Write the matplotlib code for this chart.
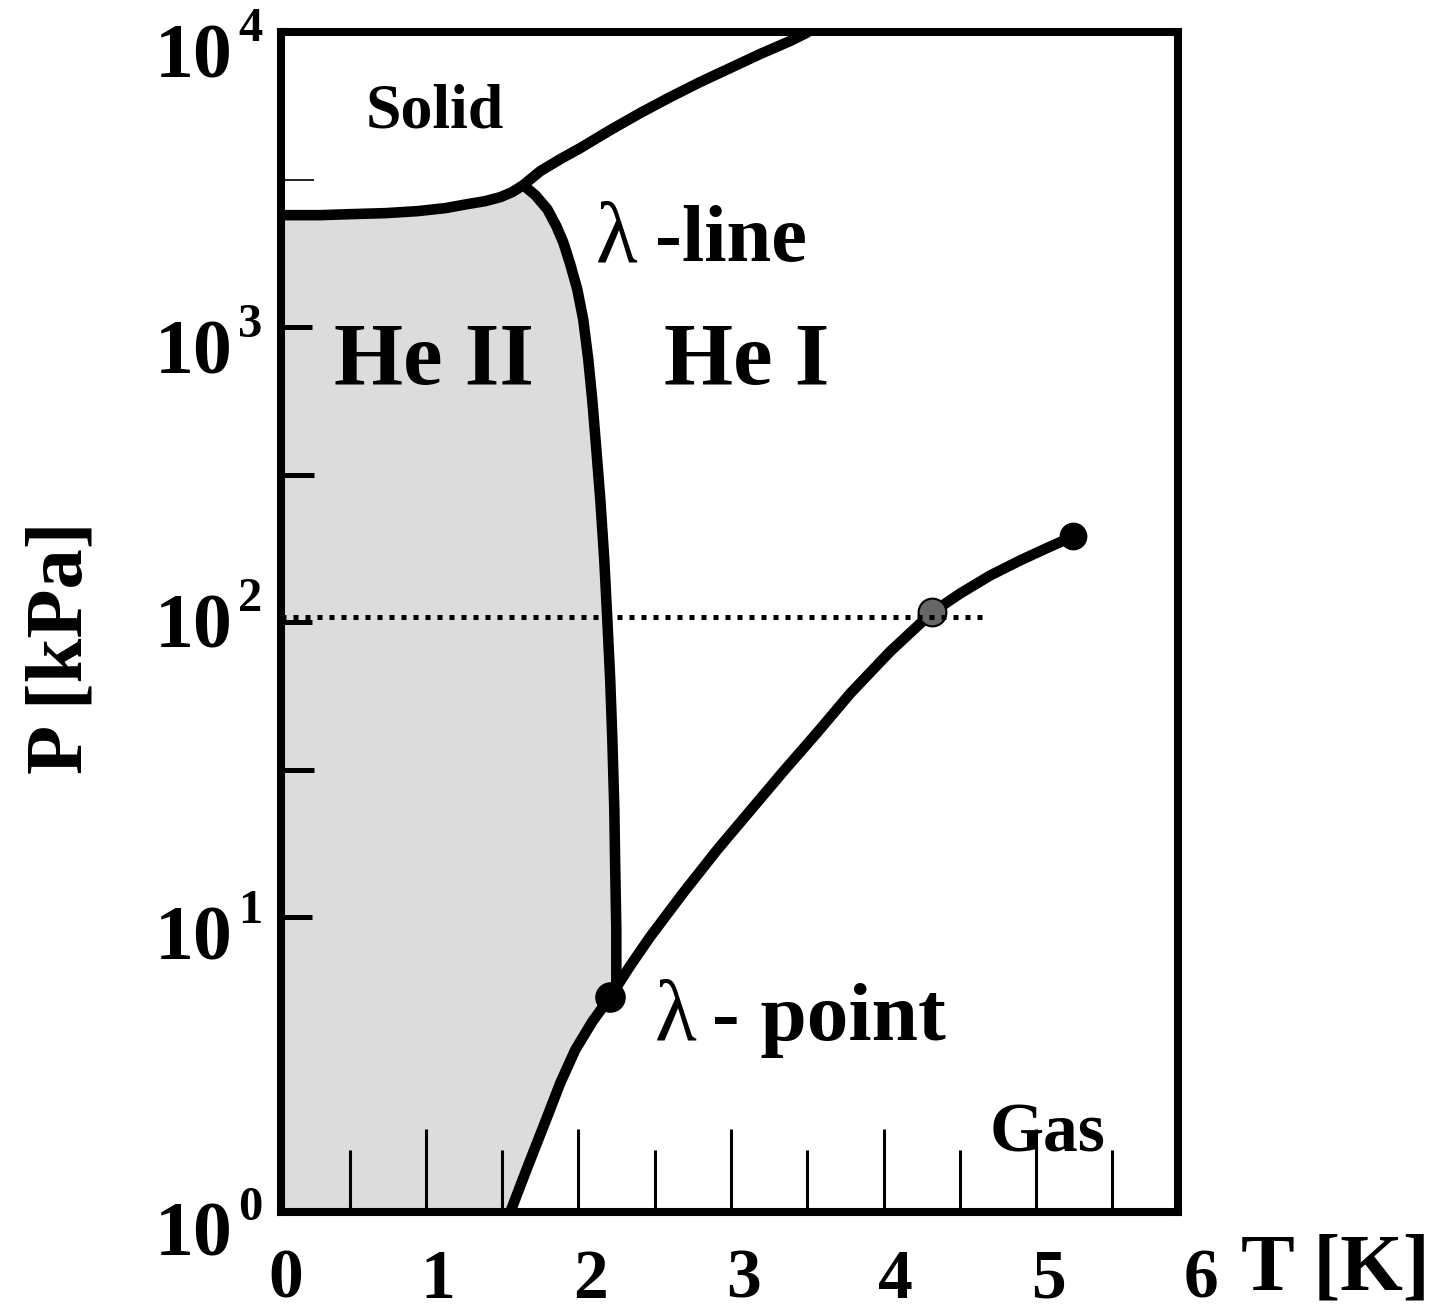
import numpy as np
import matplotlib
matplotlib.use("Agg")
import matplotlib.pyplot as plt
from matplotlib.ticker import FixedLocator, NullFormatter

plt.rcParams['font.family'] = ['Liberation Serif', 'DejaVu Serif']

# ---- phase boundaries of helium-4 (T in K, P in kPa) ----
# melting curve, solid / He II
melt_low_T = [0.05, 0.308, 0.505, 0.734, 0.944, 1.127, 1.271, 1.389,
              1.488, 1.566, 1.638]
melt_low_P = [2394, 2394, 2413, 2432, 2470, 2529, 2609, 2671,
              2756, 2866, 3027]
# melting curve, solid / He I
melt_high_T = [1.638, 1.750, 1.881, 2.012, 2.208, 2.405, 2.602, 2.798,
               2.995, 3.191, 3.388, 3.506]
melt_high_P = [3027, 3377, 3708, 4042, 4650, 5313, 6018, 6768,
               7550, 8422, 9322, 10000]
# lambda line, He II / He I
lambda_T = [1.638, 1.717, 1.796, 1.855, 1.900, 1.946, 1.992, 2.031,
            2.064, 2.090, 2.117, 2.143, 2.169, 2.189, 2.208, 2.222,
            2.235, 2.241, 2.248, 2.248, 2.208]
lambda_P = [3027, 2799, 2508, 2197, 1939, 1633, 1343, 1062,
            777.3, 568.6, 384.8, 260.4, 162.9, 102.0, 63.8, 39.9,
            23.1, 14.5, 9.05, 5.89, 5.362]
# vapour pressure curve, from the bottom of the chart to the critical point
vapor_T = [1.553, 1.671, 1.782, 1.881, 1.979, 2.090, 2.208, 2.339,
           2.470, 2.687, 2.910, 3.126, 3.342, 3.565, 3.781, 4.043,
           4.318, 4.502, 4.699, 4.895, 5.079, 5.242]
vapor_P = [1.0, 1.443, 2.020, 2.740, 3.545, 4.413, 5.362, 6.833,
           8.570, 12.08, 16.91, 22.94, 31.11, 42.19, 57.21, 79.42,
           107.7, 124.9, 143.8, 161.7, 178.9, 195.0]

lambda_point = (2.208, 5.362)
boiling_point = (4.318, 107.7)
critical_point = (5.242, 195.0)
p_atm = 104.0
p_atm_T = [0.05, 4.666]

x_tick_labels = ['0', '1', '2', '3', '4', '5', '6']
y_exponents = [0, 1, 2, 3, 4]

# ---- figure ----
W, H = 1439, 1312
PT = 0.72  # points per pixel at 100 dpi
fig = plt.figure(figsize=(W / 100, H / 100), dpi=100)
ax = fig.add_axes([281 / W, 1 - 1212 / H, (1178 - 281) / W, (1212 - 32) / H])
ax.set_yscale('log')
ax.set_xlim(0.05, 5.93)
ax.set_ylim(1, 1e4)

# He II region: melting curve, lambda line, vapour curve below the lambda point
i_lp = vapor_T.index(lambda_point[0])
fill_T = melt_low_T + lambda_T[1:] + vapor_T[i_lp - 1::-1] + [0.05]
fill_P = melt_low_P + lambda_P[1:] + vapor_P[i_lp - 1::-1] + [1.0]
ax.fill(fill_T, fill_P, color='#dcdcdc', lw=0, zorder=1)

lw = 7.6
for T, P in [(melt_low_T, melt_low_P), (melt_high_T, melt_high_P),
             (lambda_T, lambda_P), (vapor_T, vapor_P)]:
    ax.plot(T, P, color='black', lw=lw, solid_capstyle='butt',
            solid_joinstyle='round', zorder=3)

ax.plot(p_atm_T, [p_atm, p_atm], color='black', lw=3.6,
        linestyle=(0, (1.0, 1.4)), dash_capstyle='butt', zorder=6)

ax.plot(*lambda_point, 'o', color='black', ms=21, zorder=5)
ax.plot(*critical_point, 'o', color='black', ms=19, zorder=5)
ax.plot(*boiling_point, 'o', mfc='#666666', mec='black', mew=1.5, ms=20, zorder=5)

# ---- axes styling ----
for s in ax.spines.values():
    s.set_linewidth(5.8)

ax.xaxis.set_major_locator(FixedLocator([1, 2, 3, 4, 5]))
ax.xaxis.set_minor_locator(FixedLocator([0.5, 1.5, 2.5, 3.5, 4.5, 5.5]))
ax.yaxis.set_major_locator(FixedLocator([10, 100, 1000]))
ax.yaxis.set_minor_locator(FixedLocator([10 ** 1.5, 10 ** 2.5, 10 ** 3.5]))
for axis in (ax.xaxis, ax.yaxis):
    axis.set_major_formatter(NullFormatter())
    axis.set_minor_formatter(NullFormatter())
ax.tick_params(axis='x', which='major', direction='in', length=60, width=2.2,
               top=False, bottom=True)
ax.tick_params(axis='x', which='minor', direction='in', length=45, width=2.2,
               top=False, bottom=True)
ax.tick_params(axis='y', which='major', direction='in', length=22, width=3.6,
               left=True, right=False)
ax.tick_params(axis='y', which='minor', direction='in', length=24, width=3.6,
               left=True, right=False)
# the uppermost minor tick is a thin hairline
ax.yaxis.get_minor_ticks()[2].tick1line.set_markeredgewidth(1.2)

# x tick labels
xt = ax.get_xaxis_transform()
for i, lab in enumerate(x_tick_labels):
    ax.text(i + 0.08, -86 / (1212 - 32), lab, transform=xt, ha='center',
            va='baseline', fontsize=50, fontweight='bold', clip_on=False)

# y tick labels as 10^n (baseline offsets below each decade, in pixels)
base_off = {0: 44, 1: 42, 2: 25, 3: 46, 4: 45}
for n in y_exponents:
    ax.annotate('10', xy=(0, 10 ** n), xycoords=('axes fraction', 'data'),
                xytext=(-48 * PT, -base_off[n] * PT), textcoords='offset points',
                ha='right', va='baseline', fontsize=56, fontweight='bold',
                annotation_clip=False)
    ax.annotate(str(n), xy=(0, 10 ** n), xycoords=('axes fraction', 'data'),
                xytext=(-43 * PT, -(base_off[n] - 36) * PT), textcoords='offset points',
                ha='left', va='baseline', fontsize=35, fontweight='bold',
                annotation_clip=False)

# region labels
ax.text(1.055, 4760, 'Solid', ha='center', va='baseline', fontsize=46, fontweight='bold')
ax.text(1.055, 640, 'He II', ha='center', va='baseline', fontsize=64, fontweight='bold')
ax.text(3.10, 640, 'He I', ha='center', va='baseline', fontsize=64, fontweight='bold')
ax.text(5.072, 1.6, 'Gas', ha='center', va='baseline', fontsize=50, fontweight='bold')
ax.text(2.110, 1671, 'λ', ha='left', va='baseline', fontsize=62)
ax.text(2.503, 1671, '-line', ha='left', va='baseline', fontsize=58, fontweight='bold')
ax.text(2.503, 3.83, 'λ', ha='left', va='baseline', fontsize=62)
ax.text(2.877, 3.83, '- point', ha='left', va='baseline', fontsize=60, fontweight='bold')

# axis titles
fig.text(62 / W, 1 - 648 / H, 'P [kPa]', rotation=90, ha='center', va='center',
         fontsize=58, fontweight='bold')
fig.text(1335 / W, 1 - 1270 / H, 'T [K]', ha='center', va='center',
         fontsize=58, fontweight='bold')

fig.savefig('out.png', dpi=100)
